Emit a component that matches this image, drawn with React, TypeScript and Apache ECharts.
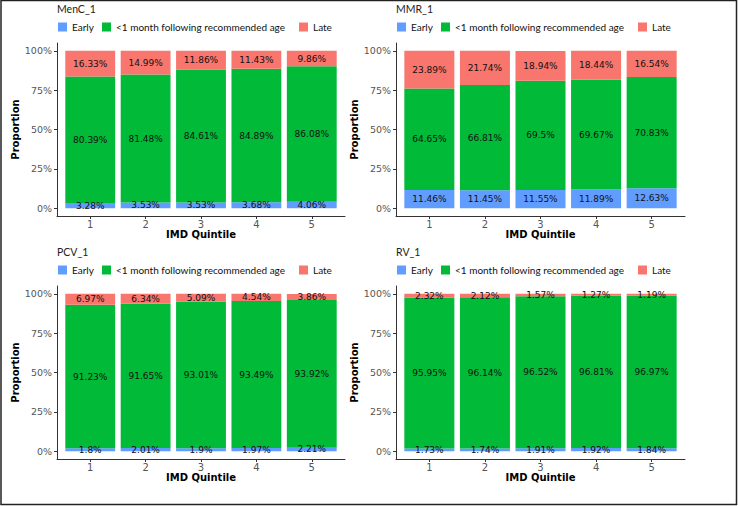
import React, { useEffect, useRef } from "react";
import * as echarts from "echarts";

const quintiles = ["1", "2", "3", "4", "5"];
const quintilePos = [1, 2, 3, 4, 5];
const yTicks = [0, 25, 50, 75, 100];
const groupNames = ["Early", "<1 month following recommended age", "Late"];
const groupColors = ["#619CFF", "#00BA38", "#F8766D"];
const panelTitles = ["MenC_1", "MMR_1", "PCV_1", "RV_1"];

const mencEarly = [3.28, 3.53, 3.53, 3.68, 4.06];
const mencOnTime = [80.39, 81.48, 84.61, 84.89, 86.08];
const mencLate = [16.33, 14.99, 11.86, 11.43, 9.86];

const mmrEarly = [11.46, 11.45, 11.55, 11.89, 12.63];
const mmrOnTime = [64.65, 66.81, 69.5, 69.67, 70.83];
const mmrLate = [23.89, 21.74, 18.94, 18.44, 16.54];

const pcvEarly = [1.8, 2.01, 1.9, 1.97, 2.21];
const pcvOnTime = [91.23, 91.65, 93.01, 93.49, 93.92];
const pcvLate = [6.97, 6.34, 5.09, 4.54, 3.86];

const rvEarly = [1.73, 1.74, 1.91, 1.92, 1.84];
const rvOnTime = [95.95, 96.14, 96.52, 96.81, 96.97];
const rvLate = [2.32, 2.12, 1.57, 1.27, 1.19];

const panelData = [
  [mencEarly, mencOnTime, mencLate],
  [mmrEarly, mmrOnTime, mmrLate],
  [pcvEarly, pcvOnTime, pcvLate],
  [rvEarly, rvOnTime, rvLate],
];

const NUM_FONT = "DejaVu Sans";
const LEG_FONT = "Lato";

export default function App() {
  const ref = useRef<HTMLDivElement>(null);
  useEffect(() => {
    document.body.style.margin = "0";
    if (!ref.current) return;
    const chart = echarts.init(ref.current, null, { renderer: "svg" });

    const panelLeft = [57, 396, 57, 396];
    const panelTop = [43, 43, 286, 286];
    const panelW = [288, 289, 288, 289];
    const panelH = 173;
    const N = 4;

    const outerGrids = panelLeft.map((l, i) => ({
      left: l,
      top: panelTop[i],
      width: panelW[i],
      height: panelH,
    }));
    const innerGrids = panelLeft.map((l, i) => {
      const unit = panelW[i] / 5.2;
      return {
        left: l + 0.1 * unit,
        top: panelTop[i],
        width: 5 * unit,
        height: panelH,
      };
    });

    const outerX = panelLeft.map((_, i) => ({
      type: "value",
      gridIndex: i,
      min: 0.4,
      max: 5.6,
      axisLine: { show: true, onZero: false, lineStyle: { color: "#333", width: 1 } },
      axisTick: { show: true, customValues: quintilePos, length: 3, lineStyle: { color: "#333" } },
      axisLabel: {
        customValues: quintilePos,
        color: "#555",
        fontSize: 10,
        fontFamily: NUM_FONT,
        margin: 3,
        formatter: (v: number) => quintiles[Math.round(v) - 1],
      },
      splitLine: { show: false },
      name: "IMD Quintile",
      nameLocation: "middle",
      nameGap: 13,
      nameTextStyle: { fontWeight: "bold", fontSize: 10, color: "#000", fontFamily: NUM_FONT },
    }));
    const innerX = panelLeft.map((_, i) => ({
      type: "category",
      gridIndex: N + i,
      data: quintiles,
      boundaryGap: true,
      show: false,
    }));

    const outerY = panelLeft.map((_, i) => ({
      type: "value",
      gridIndex: i,
      min: -5,
      max: 105,
      axisLine: { show: true, onZero: false, lineStyle: { color: "#333", width: 1 } },
      axisTick: { show: true, customValues: yTicks, length: 3, lineStyle: { color: "#333" } },
      axisLabel: {
        customValues: yTicks,
        color: "#555",
        fontSize: 9.5,
        fontFamily: NUM_FONT,
        margin: 5,
        formatter: (v: number) => v + "%",
      },
      splitLine: { show: false },
      name: "Proportion",
      nameLocation: "middle",
      nameGap: 33,
      nameRotate: 90,
      nameTextStyle: { fontWeight: "bold", fontSize: 10, color: "#000", fontFamily: NUM_FONT },
    }));
    const innerY = panelLeft.map((_, i) => ({
      type: "value",
      gridIndex: N + i,
      min: -5,
      max: 105,
      show: false,
      splitLine: { show: false },
    }));

    const series: any[] = [];
    panelData.forEach((groups, i) => {
      groups.forEach((vals, g) => {
        series.push({
          type: "bar",
          name: groupNames[g],
          xAxisIndex: N + i,
          yAxisIndex: N + i,
          stack: "panel" + i,
          barWidth: "90%",
          data: vals,
          itemStyle: { color: groupColors[g] },
          label: {
            show: true,
            position: "inside",
            color: "#111",
            fontSize: 9,
            fontFamily: NUM_FONT,
            formatter: (p: any) => p.value + "%",
          },
        });
      });
    });

    const title = panelTitles.map((t, i) => ({
      text: t,
      left: panelLeft[i],
      top: panelTop[i] - 40,
      padding: 0,
      textStyle: { fontSize: 10.5, fontWeight: "normal", color: "#222", fontFamily: LEG_FONT },
    }));

    const legendOffsets = [1, 45, 242];
    const legend: any[] = [];
    panelLeft.forEach((l, i) => {
      groupNames.forEach((n, g) => {
        legend.push({
          data: [n],
          left: l + legendOffsets[g],
          top: panelTop[i] - 21,
          padding: 0,
          icon: "rect",
          itemWidth: 9,
          itemHeight: 9,
          itemGap: 0,
          selectedMode: false,
          textStyle: { fontSize: 10, color: "#111", fontFamily: LEG_FONT },
        });
      });
    });

    chart.setOption({
      animation: false,
      backgroundColor: "#fff",
      title,
      legend,
      grid: [...outerGrids, ...innerGrids],
      xAxis: [...outerX, ...innerX],
      yAxis: [...outerY, ...innerY],
      series,
      graphic: [
        {
          type: "rect",
          shape: { x: 1, y: 0.5, width: 735.5, height: 504 },
          style: { fill: "none", stroke: "#222", lineWidth: 1.5 },
          silent: true,
        },
      ],
    });
    return () => chart.dispose();
  }, []);
  return <div ref={ref} style={{ width: 738, height: 506 }} />;
}
